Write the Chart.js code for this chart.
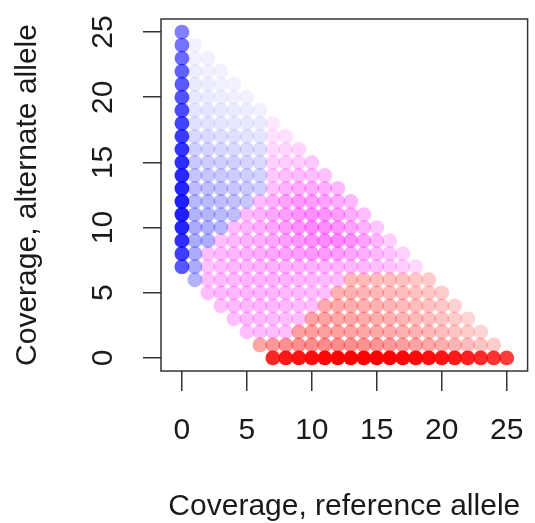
<!DOCTYPE html>
<html>
<head>
<meta charset="utf-8">
<script src="https://cdn.jsdelivr.net/npm/chart.js@4.4.1/dist/chart.umd.min.js"></script>
<style>
  html, body { margin: 0; padding: 0; background: #ffffff; }
  #c { display: block; }
</style>
</head>
<body>
<canvas id="c" width="535" height="523"></canvas>
<script>
// ---- data ----
// alternate-allele coverage of each row of points (top to bottom)
const altCoverage = [25,24,23,22,21,20,19,18,17,16,15,14,13,12,11,10,9,8,7,6,5,4,3,2,1,0];
// reference-allele coverage of the first point in each row
const refStart    = [0,0,0,0,0,0,0,0,0,0,0,0,0,0,0,0,0,0,0,1,2,3,4,5,6,7];
// genotype call of each point in the row (B = alt homozygous, P = heterozygous, R = ref homozygous)
const genotypeCalls = [
  "B",
  "BB",
  "BBB",
  "BBBB",
  "BBBBB",
  "BBBBBB",
  "BBBBBBB",
  "BBBBBBBP",
  "BBBBBBBPP",
  "BBBBBBBPPP",
  "BBBBBBBPPPP",
  "BBBBBBBPPPPP",
  "BBBBBBBPPPPPP",
  "BBBBBBPPPPPPPP",
  "BBBBBPPPPPPPPPP",
  "BBBBPPPPPPPPPPPP",
  "BBBPPPPPPPPPPPPPP",
  "BBPPPPPPPPPPPPPPPP",
  "BBPPPPPPPPPPPPPPPPP",
  "BPPPPPPPPPPPRRRRRRR",
  "PPPPPPPPPPRRRRRRRRR",
  "PPPPPPPPRRRRRRRRRRR",
  "PPPPPPRRRRRRRRRRRRR",
  "PPPPRRRRRRRRRRRRRRR",
  "RRRRRRRRRRRRRRRRRRR",
  "RRRRRRRRRRRRRRRRRRR"
];
// call strength (opacity) of each point
const callStrength = [
  [0.5],
  [0.55,0.05],
  [0.58,0.06,0.05],
  [0.62,0.07,0.06,0.05],
  [0.65,0.08,0.07,0.06,0.05],
  [0.68,0.09,0.08,0.07,0.06,0.05],
  [0.71,0.1,0.1,0.09,0.08,0.07,0.06],
  [0.74,0.12,0.11,0.1,0.09,0.09,0.08,0.09],
  [0.77,0.15,0.14,0.13,0.12,0.11,0.1,0.12,0.12],
  [0.8,0.18,0.17,0.16,0.15,0.14,0.13,0.15,0.16,0.17],
  [0.82,0.21,0.2,0.19,0.18,0.17,0.15,0.18,0.2,0.2,0.21],
  [0.84,0.23,0.22,0.21,0.2,0.19,0.17,0.21,0.25,0.26,0.25,0.24],
  [0.86,0.26,0.25,0.24,0.22,0.21,0.19,0.24,0.3,0.33,0.33,0.31,0.28],
  [0.88,0.28,0.27,0.26,0.24,0.22,0.26,0.31,0.36,0.4,0.39,0.36,0.32,0.28],
  [0.88,0.3,0.29,0.27,0.25,0.26,0.3,0.34,0.38,0.42,0.44,0.42,0.38,0.32,0.25],
  [0.86,0.32,0.31,0.29,0.26,0.29,0.32,0.35,0.39,0.43,0.46,0.45,0.42,0.36,0.3,0.22],
  [0.82,0.33,0.32,0.25,0.28,0.3,0.32,0.35,0.38,0.41,0.44,0.46,0.47,0.43,0.37,0.29,0.19],
  [0.76,0.33,0.25,0.27,0.29,0.31,0.33,0.35,0.37,0.38,0.4,0.4,0.38,0.35,0.31,0.27,0.23,0.18],
  [0.66,0.32,0.24,0.26,0.28,0.29,0.3,0.31,0.31,0.31,0.3,0.3,0.29,0.28,0.27,0.25,0.23,0.2,0.15],
  [0.3,0.25,0.27,0.28,0.29,0.3,0.3,0.3,0.29,0.28,0.27,0.26,0.27,0.27,0.26,0.25,0.24,0.22,0.2],
  [0.25,0.27,0.28,0.29,0.29,0.29,0.28,0.27,0.26,0.25,0.3,0.3,0.29,0.28,0.27,0.26,0.24,0.22,0.2],
  [0.25,0.27,0.28,0.28,0.28,0.27,0.26,0.25,0.33,0.33,0.32,0.31,0.3,0.29,0.27,0.26,0.24,0.21,0.18],
  [0.25,0.27,0.27,0.27,0.26,0.25,0.36,0.36,0.35,0.34,0.33,0.32,0.31,0.29,0.27,0.25,0.23,0.2,0.17],
  [0.25,0.26,0.26,0.25,0.38,0.38,0.38,0.37,0.36,0.35,0.34,0.33,0.31,0.3,0.28,0.26,0.23,0.2,0.17],
  [0.35,0.4,0.43,0.44,0.45,0.45,0.45,0.44,0.43,0.42,0.4,0.38,0.36,0.34,0.32,0.29,0.26,0.23,0.2],
  [0.85,0.9,0.93,0.96,0.98,1,1,1,1,1,0.98,0.97,0.95,0.93,0.9,0.87,0.84,0.8,0.77]
];
const xTickValues = [0,5,10,15,20,25];
const yTickValues = [0,5,10,15,20,25];
const xTitle = "Coverage, reference allele";
const yTitle = "Coverage, alternate allele";

// ---- styles ----
const callRGB = { B: "0,0,255", P: "255,0,255", R: "255,0,0" };
const FONT = "'Liberation Sans', Arial, sans-serif";
const INK = "#1a1a1a";
const LINE = "#333333";

// build datasets from the arrays
const groups = { B: { data: [], colors: [] }, P: { data: [], colors: [] }, R: { data: [], colors: [] } };
altCoverage.forEach((alt, i) => {
  const calls = genotypeCalls[i];
  for (let j = 0; j < calls.length; j++) {
    const g = groups[calls[j]];
    g.data.push({ x: refStart[i] + j, y: alt });
    g.colors.push("rgba(" + callRGB[calls[j]] + "," + callStrength[i][j] + ")");
  }
});
const datasets = ["B", "P", "R"].map(k => ({
  data: groups[k].data,
  backgroundColor: groups[k].colors,
  pointBackgroundColor: groups[k].colors,
  pointRadius: 7.4,
  pointHoverRadius: 7.4,
  pointBorderWidth: 0,
  borderWidth: 0
}));

const boxAndYLabels = {
  id: "boxAndYLabels",
  afterDraw(chart) {
    const { ctx, chartArea: a, scales } = chart;
    ctx.save();
    ctx.strokeStyle = LINE;
    ctx.lineWidth = 1.5;
    ctx.strokeRect(a.left, a.top, a.right - a.left, a.bottom - a.top);
    // rotated y tick labels, placed by the y scale
    ctx.fillStyle = INK;
    ctx.font = "30px " + FONT;
    ctx.textAlign = "center";
    ctx.textBaseline = "alphabetic";
    yTickValues.forEach(v => {
      const py = scales.y.getPixelForValue(v);
      ctx.save();
      ctx.translate(112, py);
      ctx.rotate(-Math.PI / 2);
      ctx.fillText(String(v), 0, 0);
      ctx.restore();
    });
    ctx.restore();
  }
};

new Chart(document.getElementById("c"), {
  type: "scatter",
  data: { datasets },
  options: {
    responsive: false,
    animation: false,
    events: [],
    layout: { padding: { left: 0, top: 19, right: 6, bottom: 0 } },
    plugins: { legend: { display: false }, tooltip: { enabled: false } },
    scales: {
      x: {
        type: "linear",
        min: -1.61,
        max: 26.61,
        afterBuildTicks: s => { s.ticks = xTickValues.map(v => ({ value: v })); },
        afterFit: s => { s.height = 152; s.paddingLeft = 0; s.paddingRight = 0; },
        border: { display: false },
        grid: { drawOnChartArea: false, drawTicks: true, tickLength: 20, color: LINE, lineWidth: 1.5 },
        ticks: { autoSkip: false, maxRotation: 0, minRotation: 0, padding: 22, color: INK,
                 font: { family: FONT, size: 30, lineHeight: 1.2 } },
        title: { display: true, text: xTitle, color: INK, padding: { top: 0, bottom: 0 },
                 font: { family: FONT, size: 30, lineHeight: 1.1 } }
      },
      y: {
        type: "linear",
        min: -1,
        max: 26,
        afterBuildTicks: s => { s.ticks = yTickValues.map(v => ({ value: v })); },
        afterFit: s => { s.width = 161; s.paddingTop = 0; s.paddingBottom = 0; },
        border: { display: false },
        grid: { drawOnChartArea: false, drawTicks: true, tickLength: 18, color: LINE, lineWidth: 1.5 },
        ticks: { display: false },
        title: { display: true, text: yTitle, color: INK, padding: { top: 11, bottom: 0 },
                 font: { family: FONT, size: 30, lineHeight: 1.1 } }
      }
    }
  },
  plugins: [boxAndYLabels]
});
</script>
</body>
</html>
